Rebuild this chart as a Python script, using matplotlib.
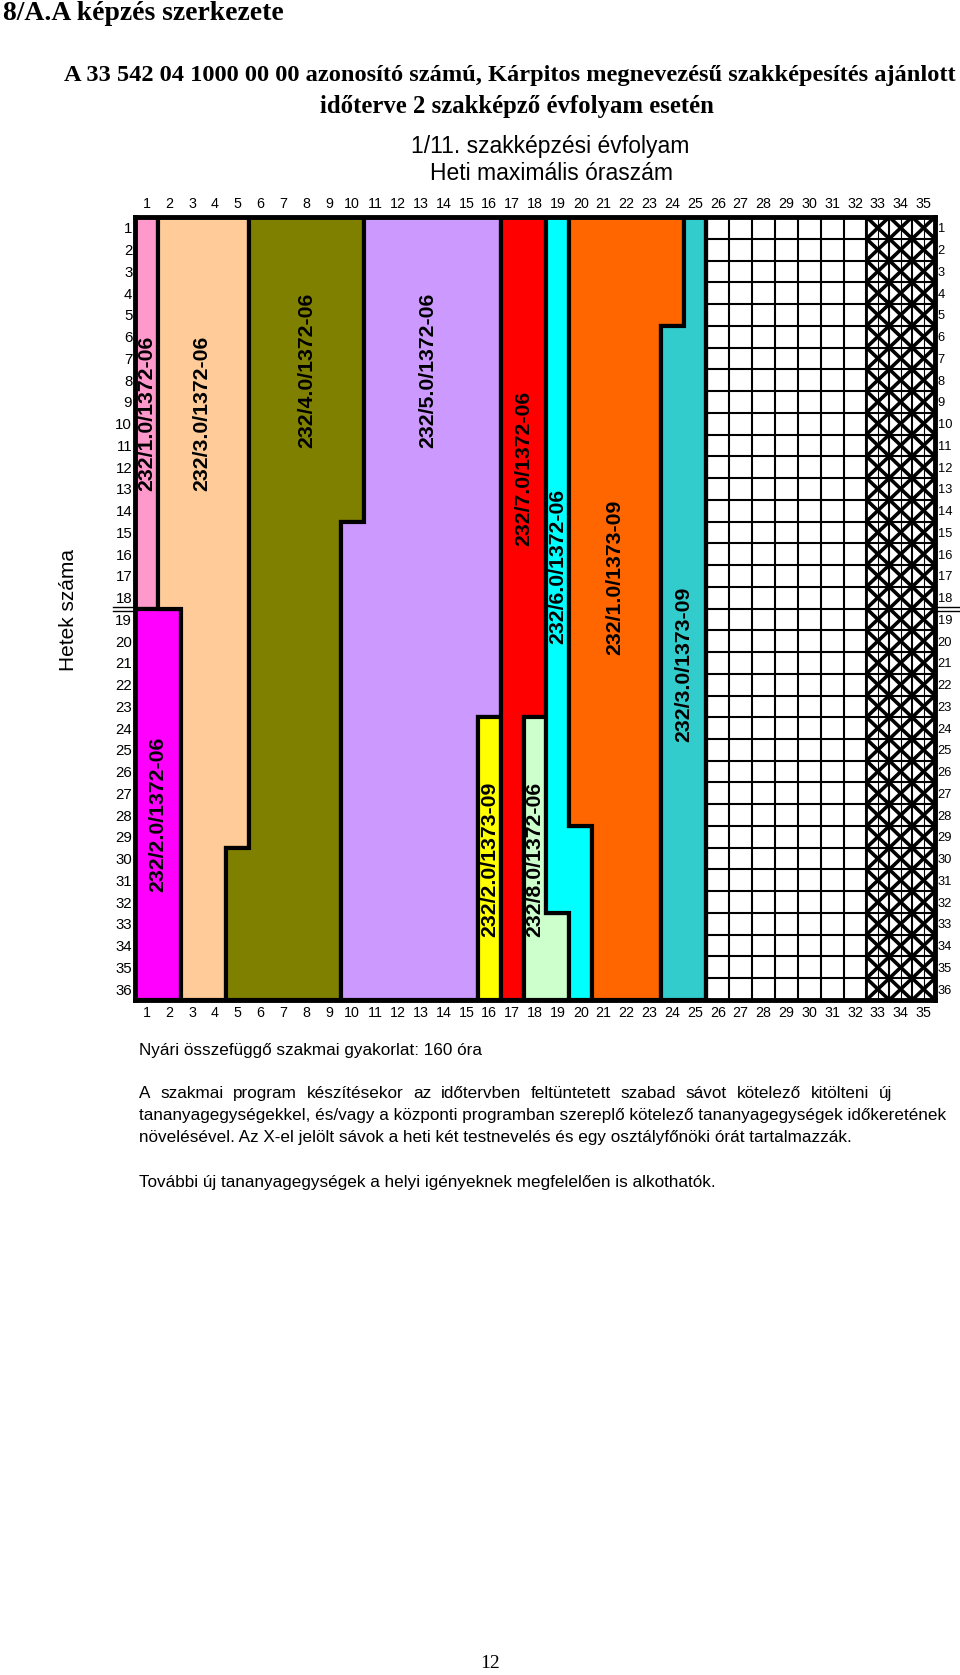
import matplotlib
matplotlib.use("Agg")
import matplotlib.pyplot as plt
from matplotlib.patches import Polygon
from matplotlib.collections import LineCollection
import numpy as np

plt.rcParams['font.family'] = ['Liberation Sans', 'DejaVu Sans']
SERIF = ['Liberation Serif', 'DejaVu Serif']

# ---------------- data ----------------
N_COLS = 35          # weekly hours
N_ROWS = 36          # weeks
col_labels = [str(i) for i in range(1, N_COLS + 1)]
row_labels = [str(i) for i in range(1, N_ROWS + 1)]

# module codes
block_names = [
    "232/1.0/1372-06", "232/2.0/1372-06", "232/3.0/1372-06", "232/4.0/1372-06",
    "232/5.0/1372-06", "232/2.0/1373-09", "232/7.0/1372-06", "232/8.0/1372-06",
    "232/6.0/1372-06", "232/1.0/1373-09", "232/3.0/1373-09",
]
block_colors = [
    "#FF99CC", "#FF00FF", "#FFCC99", "#808000",
    "#CC99FF", "#FFFF00", "#FF0000", "#CCFFCC",
    "#00FFFF", "#FF6600", "#33CCCC",
]
# segments: (first week, last week, first hour, last hour) -- inclusive, 1-based
block_segments = [
    [(1, 18, 1, 1)],
    [(19, 36, 1, 2)],
    [(1, 18, 2, 5), (19, 29, 3, 5), (30, 36, 3, 4)],
    [(1, 14, 6, 10), (15, 29, 6, 9), (30, 36, 5, 9)],
    [(1, 14, 11, 16), (15, 23, 10, 16), (24, 36, 10, 15)],
    [(24, 36, 16, 16)],
    [(1, 23, 17, 18), (24, 36, 17, 17)],
    [(24, 32, 18, 18), (33, 36, 18, 19)],
    [(1, 28, 19, 19), (29, 32, 19, 20), (33, 36, 20, 20)],
    [(1, 5, 20, 24), (6, 28, 20, 23), (29, 36, 21, 23)],
    [(1, 5, 25, 25), (6, 36, 24, 25)],
]
# label centre (hour position, week position)
label_hour = [1.0, 1.5, 3.4, 8.0, 13.3, 16.0, 17.5, 18.0, 19.0, 21.5, 24.5]
label_week = [9.55, 27.95, 9.55, 7.55, 7.55, 30.05, 12.05, 30.05, 16.55, 17.05, 21.05]

free_hours = list(range(26, 33))     # free (empty) band
x_hours = [33, 34, 35]               # PE / class-master hours (X)

# ---------------- figure ----------------
W, H = 960, 1675
fig = plt.figure(figsize=(W / 100, H / 100), dpi=100)


def fx(px):
    return px / W


def fy(py):
    return 1 - py / H


gl, gr, gt, gb = 135, 935, 217, 1000
ax = fig.add_axes([fx(gl), fy(gb), (gr - gl) / W, (gb - gt) / H])
ax.set_xlim(0, N_COLS)
ax.set_ylim(N_ROWS, 0)

# blocks
for name, col, segs, lx, ly in zip(block_names, block_colors, block_segments,
                                   label_hour, label_week):
    right = []
    left = []
    for (w0, w1, h0, h1) in segs:
        right += [(h1, w0 - 1), (h1, w1)]
        left.append([(h0 - 1, w0 - 1), (h0 - 1, w1)])
    pts = right + [p for seg in reversed(left) for p in reversed(seg)]
    poly = Polygon(pts, closed=True, facecolor=col, edgecolor='black',
                   linewidth=3.0, joinstyle='miter', zorder=2)
    ax.add_patch(poly)
    ax.text(lx - 0.5, ly - 0.5, name, rotation=90, ha='center', va='center',
            fontsize=15.3, fontweight='bold', color='black', zorder=5)

# free cells grid
h0, h1 = min(free_hours) - 1, max(x_hours)
segs = []
for c in range(h0, h1 + 1):
    segs.append([(c, 0), (c, N_ROWS)])
for r in range(0, N_ROWS + 1):
    segs.append([(h0, r), (h1, r)])
ax.add_collection(LineCollection(segs, colors='black', linewidths=1.5, zorder=3))

# X cells
xsegs = []
vsegs = []
for c in x_hours:
    for r in range(N_ROWS):
        xsegs.append([(c - 1, r), (c, r + 1)])
        xsegs.append([(c - 1, r + 1), (c, r)])
        vsegs.append([(c - 0.5, r), (c - 0.5, r + 1)])
ax.add_collection(LineCollection(xsegs, colors='black', linewidths=2.6, zorder=3))
ax.add_collection(LineCollection(vsegs, colors='black', linewidths=0.8, zorder=3))
ax.plot([h0, h0], [0, N_ROWS], color='black', lw=3.0, zorder=4)
ax.plot([max(free_hours), max(free_hours)], [0, N_ROWS], color='black', lw=2.0, zorder=4)

for s in ax.spines.values():
    s.set_linewidth(3.5)
    s.set_zorder(6)

ax.set_xticks(np.arange(N_COLS) + 0.5)
ax.set_xticklabels(col_labels)
ax.set_yticks(np.arange(N_ROWS) + 0.5)
ax.set_yticklabels(row_labels)
ax.tick_params(axis='x', top=True, labeltop=True, bottom=True, labelbottom=True,
               length=0, pad=4, labelsize=10.3)
ax.tick_params(axis='y', left=True, labelleft=True, right=True, labelright=True,
               length=0, pad=2, labelsize=10.8)
for t in ax.yaxis.get_major_ticks():
    t.label2.set_fontsize(9.3)

# double line between the two halves of the year
for dy in (-0.07, 0.12):
    ax.plot([-0.98, 0], [18 + dy, 18 + dy], color='black', lw=1.0, clip_on=False)
    ax.plot([35, 36.1], [18 + dy, 18 + dy], color='black', lw=1.0, clip_on=False)

ax.text(-2.9, 18.05, "Hetek száma", rotation=90, ha='center', va='center', fontsize=15)

# ---------------- page texts ----------------
fig.text(fx(3), fy(14), "8/A.A képzés szerkezete", family=SERIF, fontweight='bold',
         fontsize=19.9, ha='left', va='center')
fig.text(fx(510), fy(75), "A 33 542 04 1000 00 00 azonosító számú, Kárpitos megnevezésű szakképesítés ajánlott",
         family=SERIF, fontweight='bold', fontsize=17.6, ha='center', va='center')
fig.text(fx(517), fy(107), "időterve 2 szakképző évfolyam esetén",
         family=SERIF, fontweight='bold', fontsize=17.8, ha='center', va='center')
fig.text(fx(550), fy(147), "1/11. szakképzési évfolyam", fontsize=16.5, ha='center', va='center')
fig.text(fx(552), fy(173), "Heti maximális óraszám", fontsize=16.5, ha='center', va='center')

fig.text(fx(139), fy(1050), "Nyári összefüggő szakmai gyakorlat: 160 óra",
         fontsize=12.3, ha='left', va='center')

# justified first line of the paragraph (aligned on the baseline)
renderer = fig.canvas.get_renderer()
line1 = "A szakmai program készítésekor az időtervben feltüntetett szabad sávot kötelező kitölteni új"
words = line1.split(' ')
wtexts = [fig.text(0, fy(1098), w, fontsize=12.3, ha='left', va='baseline') for w in words]
widths = [t.get_window_extent(renderer).width for t in wtexts]
x0, x1 = 139, 892
gap = (x1 - x0 - sum(widths)) / (len(words) - 1)
xp = x0
for t, wdt in zip(wtexts, widths):
    t.set_x(fx(xp))
    xp += wdt + gap

para = [
    "tananyagegységekkel, és/vagy a központi programban szereplő kötelező tananyagegységek időkeretének",
    "növelésével. Az X-el jelölt sávok a heti két testnevelés és egy osztályfőnöki órát tartalmazzák.",
]
for i, line in enumerate(para):
    fig.text(fx(139), fy(1120 + 22 * i), line, fontsize=12.3, ha='left', va='baseline')
fig.text(fx(139), fy(1187), "További új tananyagegységek a helyi igényeknek megfelelően is alkothatók.",
         fontsize=12.3, ha='left', va='baseline')
fig.text(fx(490), fy(1663), "12", family=SERIF, fontsize=14, ha='center', va='center')

fig.savefig("out.png", dpi=100)
